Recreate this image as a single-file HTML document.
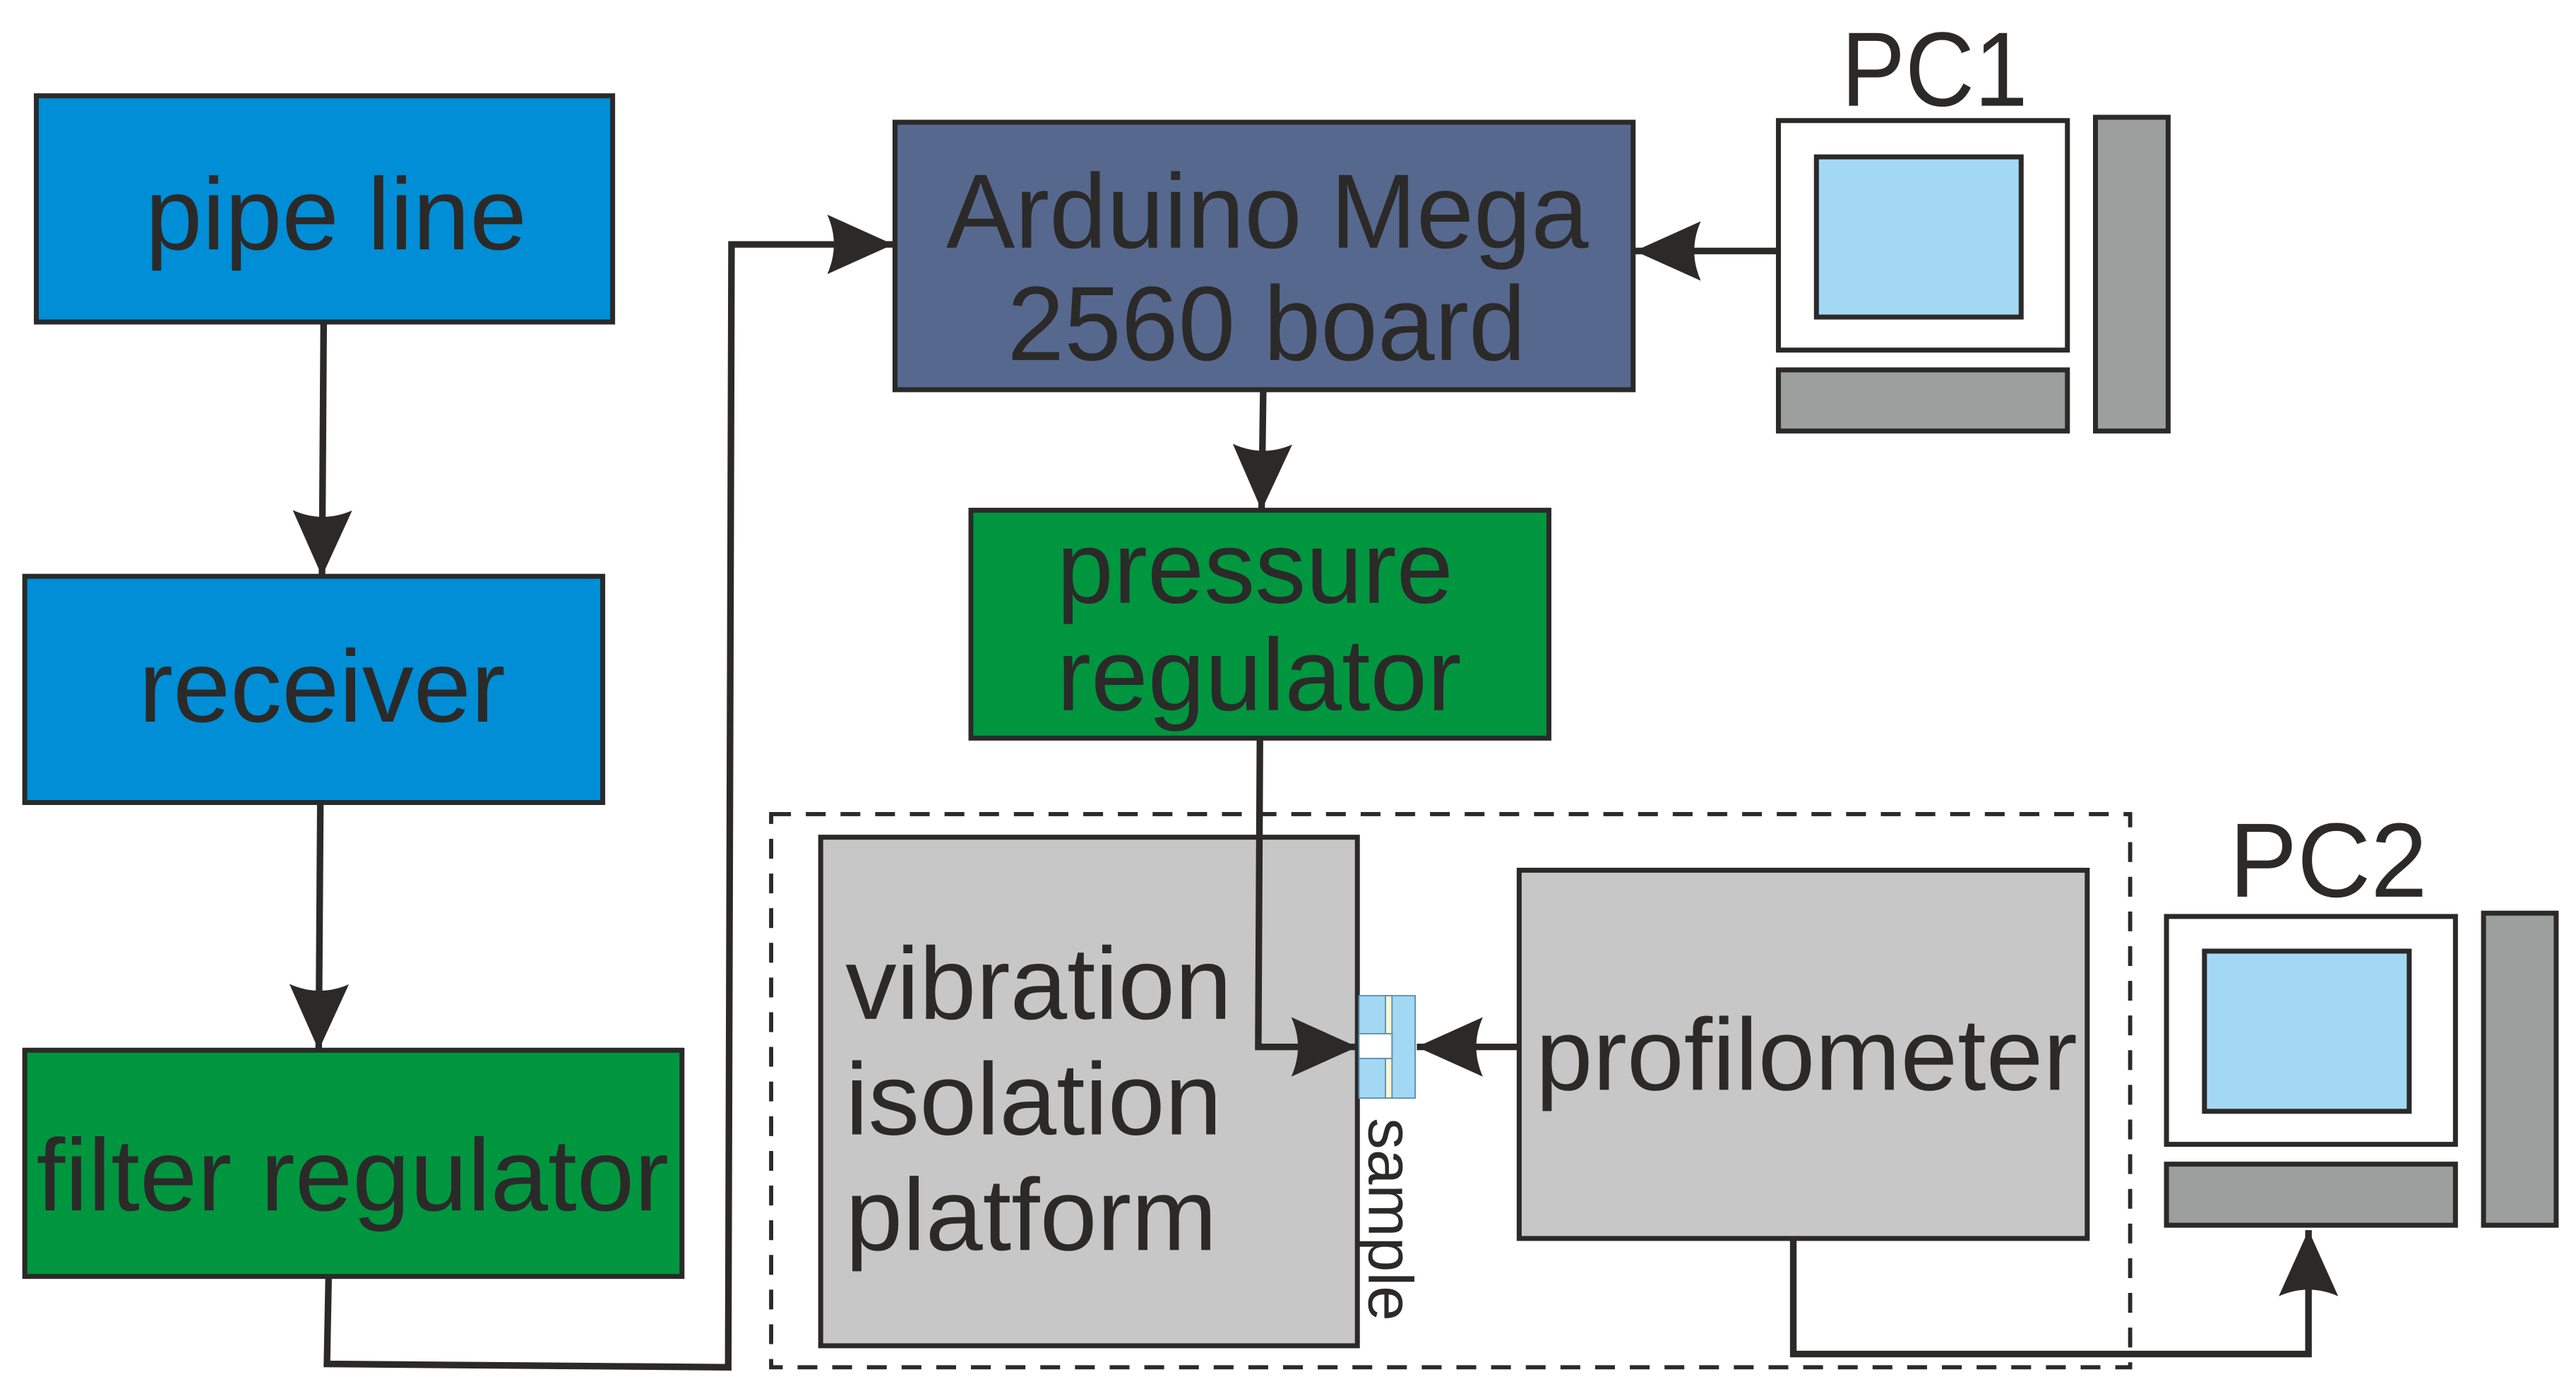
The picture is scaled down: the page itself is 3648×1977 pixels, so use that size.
<!DOCTYPE html>
<html><head><meta charset="utf-8"><style>
html,body{margin:0;padding:0;background:#fff;}
svg{display:block;}
text{font-family:"Liberation Sans",sans-serif;fill:#2b2a29;}
</style></head><body>
<svg width="3648" height="1977" viewBox="0 0 1560 845.4" xmlns="http://www.w3.org/2000/svg">
<defs>
<marker id="ah" viewBox="0 0 40 36" refX="40" refY="18" markerWidth="40" markerHeight="36" markerUnits="userSpaceOnUse" orient="auto">
<path d="M0,0 L40,18 L0,36 Q8,18 0,0 Z" fill="#2b2a29"/>
</marker>
</defs>
<g stroke="#2b2a29" stroke-width="3">
<rect x="22" y="58" width="349" height="137" fill="#008ed6"/>
<rect x="15" y="349" width="350" height="137" fill="#008ed6"/>
<rect x="15" y="636" width="398" height="137" fill="#00963f"/>
<rect x="542" y="74" width="447" height="162" fill="#56688e"/>
<rect x="588" y="309" width="350" height="138" fill="#00963f"/>
<rect x="1077" y="73" width="175" height="139" fill="#fff"/>
<rect x="1100" y="95" width="124" height="97" fill="#a3d8f5"/>
<rect x="1077" y="224" width="175" height="37" fill="#9d9e9e"/>
<rect x="1269" y="71" width="44" height="190" fill="#9d9e9e"/>
<rect x="1312" y="555" width="175" height="138" fill="#fff"/>
<rect x="1335" y="576" width="124" height="97" fill="#a3d8f5"/>
<rect x="1312" y="705" width="175" height="37" fill="#9d9e9e"/>
<rect x="1504" y="553" width="44" height="189" fill="#9d9e9e"/>
<rect x="497" y="507" width="325" height="308" fill="#c6c7c6"/>
<rect x="920" y="527" width="344" height="223" fill="#c6c7c6"/>
</g>
<rect x="467" y="493" width="823" height="335" fill="none" stroke="#2b2a29" stroke-width="2.5" stroke-dasharray="12,9"/>
<g stroke="#5a8fb0" stroke-width="0.8">
<rect x="823" y="603" width="34" height="62" fill="#a3d8f5"/>
<rect x="839" y="603" width="4" height="62" fill="#fdf6d0"/>
<rect x="823" y="626" width="20" height="15" fill="#fff"/>
</g>
<g fill="none" stroke="#2b2a29" stroke-width="4">
<path d="M196,195 L195,349" marker-end="url(#ah)"/>
<path d="M194,486 L193,636" marker-end="url(#ah)"/>
<path d="M199,773 L198,826 L441,828 L443,148 L541,148" marker-end="url(#ah)"/>
<path d="M1077,152 L990,152" marker-end="url(#ah)"/>
<path d="M765,236 L764,309" marker-end="url(#ah)"/>
<path d="M763,447 L762,634 L822,634" marker-end="url(#ah)"/>
<path d="M920,634 L858,634" marker-end="url(#ah)"/>
<path d="M1086,750 L1086,820 L1398,820 L1398,745" marker-end="url(#ah)"/>
</g>
<g font-size="62" lengthAdjust="spacingAndGlyphs">
<text x="88" y="151" textLength="231" lengthAdjust="spacingAndGlyphs">pipe line</text>
<text x="84" y="437" textLength="222" lengthAdjust="spacingAndGlyphs">receiver</text>
<text x="22" y="733" textLength="383" lengthAdjust="spacingAndGlyphs">filter regulator</text>
<text x="573" y="150" font-size="64" textLength="389" lengthAdjust="spacingAndGlyphs">Arduino Mega</text>
<text x="610" y="218" font-size="64" textLength="314" lengthAdjust="spacingAndGlyphs">2560 board</text>
<text x="640" y="365" textLength="240" lengthAdjust="spacingAndGlyphs">pressure</text>
<text x="640" y="430" textLength="245" lengthAdjust="spacingAndGlyphs">regulator</text>
<text x="1115" y="64" font-size="64" textLength="113" lengthAdjust="spacingAndGlyphs">PC1</text>
<text x="1350" y="543" font-size="64" textLength="120" lengthAdjust="spacingAndGlyphs">PC2</text>
<text x="512" y="617" textLength="234" lengthAdjust="spacingAndGlyphs">vibration</text>
<text x="512" y="687" textLength="228" lengthAdjust="spacingAndGlyphs">isolation</text>
<text x="512" y="757" textLength="225" lengthAdjust="spacingAndGlyphs">platform</text>
<text x="930" y="660" textLength="328" lengthAdjust="spacingAndGlyphs">profilometer</text>
</g>
<text x="0" y="0" font-size="38" textLength="123" lengthAdjust="spacingAndGlyphs" transform="translate(829,677) rotate(90)">sample</text>
</svg>
</body></html>
